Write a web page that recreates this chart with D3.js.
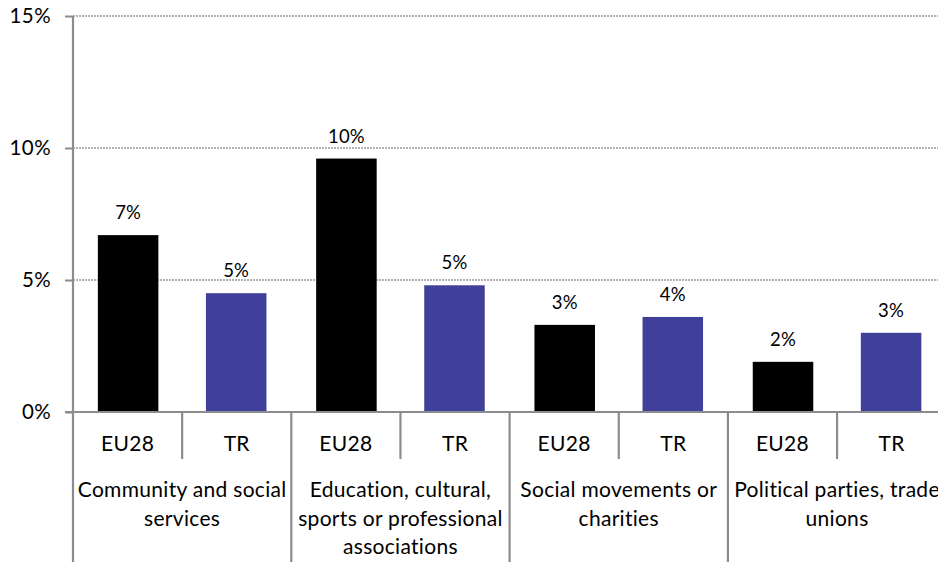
<!DOCTYPE html>
<html>
<head>
<meta charset="utf-8">
<script src="https://cdn.jsdelivr.net/npm/d3@7"></script>
<style>
  html, body { margin: 0; padding: 0; background: #fff; }
  svg { display: block; font-family: Lato, "Open Sans", sans-serif; }
</style>
</head>
<body>
<svg id="chart" width="938" height="562"></svg>
<script>
// Groups of the x axis, each with two bars (EU28, TR)
const groups = [
  ["Community and social", "services"],
  ["Education, cultural,", "sports or professional", "associations"],
  ["Social movements or", "charities"],
  ["Political parties, trade", "unions"]
];
const seriesNames = ["EU28", "TR"];
// Shares in percent
const eu28Values = [6.7, 9.6, 3.3, 1.9];
const trValues = [4.5, 4.8, 3.6, 3.0];
const yTicks = [0, 5, 10, 15];

const colors = { EU28: "#000000", TR: "#40409a" };
const axisColor = "#8c8c90";

const svg = d3.select("#chart");
const margin = { left: 73, top: 16, baseline: 412 };
const groupW = 218.3;
const plotRight = margin.left + groupW * groups.length;

const y = d3.scaleLinear().domain([0, 15]).range([margin.baseline, margin.top]);
const xGroup = d3.scaleBand().domain(d3.range(groups.length))
  .range([margin.left, plotRight]).padding(0);
const xSub = d3.scaleBand().domain(seriesNames)
  .range([0, xGroup.bandwidth()]).paddingInner(0.44).paddingOuter(0.23);

// Gridlines (dotted)
svg.append("g").selectAll("line").data(yTicks.filter(d => d > 0)).join("line")
  .attr("x1", margin.left).attr("x2", plotRight)
  .attr("y1", d => y(d)).attr("y2", d => y(d))
  .attr("stroke", "#9a9a9a").attr("stroke-width", 1.6)
  .attr("stroke-dasharray", "2,1");

// Y axis
const yAxis = d3.axisLeft(y).tickValues(yTicks).tickFormat(d => d + "%")
  .tickSize(8).tickPadding(14);
const yg = svg.append("g").attr("transform", `translate(${margin.left},0)`).call(yAxis);
yg.select(".domain").remove();
yg.selectAll(".tick line").attr("stroke", axisColor).attr("stroke-width", 2);
yg.selectAll(".tick text").attr("fill", "#000").style("font-size", "20.5px")
  .style("letter-spacing", "0.4px")
  .style("font-family", "Lato, 'Open Sans', sans-serif");

// Vertical axis line down to the bottom of the label area
svg.append("line").attr("x1", margin.left).attr("x2", margin.left)
  .attr("y1", margin.top).attr("y2", 562)
  .attr("stroke", axisColor).attr("stroke-width", 2.2);

// Bars
const rows = [];
groups.forEach((g, i) => {
  rows.push({ group: i, series: "EU28", value: eu28Values[i] });
  rows.push({ group: i, series: "TR", value: trValues[i] });
});
const fmt = d3.format(".0f");
svg.append("g").selectAll("rect").data(rows).join("rect")
  .attr("x", d => xGroup(d.group) + xSub(d.series))
  .attr("width", xSub.bandwidth())
  .attr("y", d => y(d.value))
  .attr("height", d => y(0) - y(d.value))
  .attr("fill", d => colors[d.series]);

// Value labels
svg.append("g").selectAll("text").data(rows).join("text")
  .attr("x", d => xGroup(d.group) + xSub(d.series) + xSub.bandwidth() / 2)
  .attr("y", d => y(d.value) - 16)
  .attr("text-anchor", "middle")
  .style("font-size", "18.5px")
  .style("letter-spacing", "0.2px")
  .text(d => fmt(d.value) + "%");

// Baseline
svg.append("line").attr("x1", margin.left - 8).attr("x2", plotRight)
  .attr("y1", y(0)).attr("y2", y(0))
  .attr("stroke", axisColor).attr("stroke-width", 2.2);

// Category axis: series labels and dividers
const subW = xGroup.bandwidth() / 2;
groups.forEach((g, i) => {
  const gx = xGroup(i);
  seriesNames.forEach((s, j) => {
    svg.append("text")
      .attr("x", gx + subW * (j + 0.5)).attr("y", 451)
      .attr("text-anchor", "middle").style("font-size", "21px")
      .style("letter-spacing", "0.3px").text(s);
  });
  // divider between the two series
  svg.append("line").attr("x1", gx + subW).attr("x2", gx + subW)
    .attr("y1", y(0)).attr("y2", 459)
    .attr("stroke", axisColor).attr("stroke-width", 2.2);
  // divider after the group
  if (i < groups.length - 1) {
    svg.append("line").attr("x1", gx + xGroup.bandwidth()).attr("x2", gx + xGroup.bandwidth())
      .attr("y1", y(0)).attr("y2", 562)
      .attr("stroke", axisColor).attr("stroke-width", 2.2);
  }
  // group label (wrapped lines)
  const t = svg.append("text").attr("text-anchor", "middle")
    .style("font-size", "21px").style("letter-spacing", "0.3px");
  g.forEach((line, k) => {
    t.append("tspan").attr("x", gx + xGroup.bandwidth() / 2)
      .attr("y", 497 + k * 28.5).text(line);
  });
});
</script>
</body>
</html>
